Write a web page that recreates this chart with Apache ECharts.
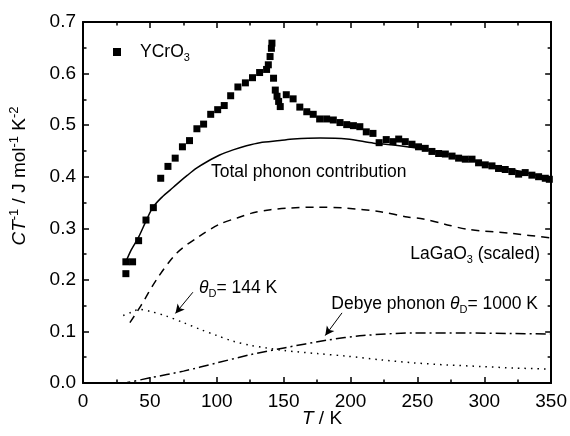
<!DOCTYPE html>
<html>
<head>
<meta charset="utf-8">
<title>YCrO3 CT-1</title>
<script src="https://cdn.jsdelivr.net/npm/echarts@6/dist/echarts.min.js"></script>
<style>
  html, body { margin: 0; padding: 0; background: #fff; }
  .layer { position: absolute; left: 0; top: 0; width: 570px; height: 436px; }
</style>
</head>
<body>
<div id="frame" class="layer"></div>
<div id="chart" class="layer"></div>
<script>
// measured YCrO3 points [T, C/T]
let ycroData = [
  [32, 0.212], [32, 0.235], [37, 0.235], [41.5, 0.276], [47, 0.316], [52.5, 0.340],
  [58, 0.397], [63.4, 0.420], [68.8, 0.436], [74.2, 0.458], [79.5, 0.470], [85, 0.493],
  [90, 0.502], [95.3, 0.521], [100.5, 0.530], [105.4, 0.538], [110.2, 0.557], [115.6, 0.574],
  [121.2, 0.582], [126.5, 0.592], [131.8, 0.602], [137, 0.608], [138.3, 0.617], [139.6, 0.633],
  [140.6, 0.649], [141, 0.659], [142.2, 0.591], [143.5, 0.568], [144.8, 0.556], [146, 0.546],
  [147.2, 0.536], [151.7, 0.559], [156.8, 0.551], [161.8, 0.535], [167, 0.526], [171.8, 0.521],
  [176.6, 0.512], [181.8, 0.512], [186.8, 0.510], [191.8, 0.505], [196.8, 0.501], [201.8, 0.499],
  [206.6, 0.497], [211.4, 0.487], [216.4, 0.484], [221, 0.466], [226.3, 0.472], [231.3, 0.468],
  [235.6, 0.473], [240.5, 0.468], [245.5, 0.463], [250.4, 0.458], [255.4, 0.455], [260.4, 0.449],
  [265.4, 0.445], [270.4, 0.444], [275.4, 0.440], [280.3, 0.436], [285.3, 0.434], [290.3, 0.434],
  [295.2, 0.427], [300.2, 0.423], [305.2, 0.421], [310.1, 0.416], [315.1, 0.414], [320.1, 0.410],
  [325.1, 0.405], [330, 0.408], [335, 0.403], [340, 0.400], [345, 0.397], [348, 0.395]
];

// total phonon contribution (solid)
let totalPhonon = [
  [32, 0.235], [36, 0.258], [41.5, 0.283], [47, 0.314], [52, 0.340], [58, 0.358],
  [65, 0.374], [72, 0.390], [78, 0.403], [85, 0.417], [92.5, 0.429], [102, 0.442],
  [112, 0.452], [122, 0.460], [132, 0.466], [147, 0.470], [157, 0.473], [177, 0.475],
  [197, 0.473], [217, 0.465], [230, 0.462], [250, 0.455], [275, 0.442], [300, 0.426],
  [325, 0.411], [350, 0.396]
];

// LaGaO3 scaled (dashed)
let laGaO3 = [
  [35, 0.117], [43, 0.149], [55, 0.201], [70, 0.252], [87, 0.285], [102, 0.308],
  [115, 0.320], [127, 0.330], [140, 0.336], [152, 0.339], [175, 0.341], [197, 0.339],
  [222, 0.332], [242, 0.322], [254, 0.318], [270, 0.308], [287, 0.298], [320, 0.290],
  [350, 0.281]
];

// Debye theta_D = 144 K (dotted)
let debye144 = [
  [30, 0.131], [36, 0.137], [42, 0.143], [50, 0.139], [62, 0.130], [75, 0.117],
  [87.5, 0.104], [100, 0.092], [112, 0.081], [125, 0.073], [137, 0.068], [150, 0.063],
  [175, 0.057], [197, 0.052], [222, 0.045], [247, 0.039], [272, 0.035], [297, 0.032],
  [322, 0.029], [350, 0.027]
];

// Debye theta_D = 1000 K (dash-dot)
let debye1000 = [
  [28, 0.000], [33, 0.001], [50, 0.010], [75, 0.023], [100, 0.039], [125, 0.055],
  [150, 0.068], [182, 0.083], [209, 0.092], [247, 0.097], [284, 0.097], [320, 0.096],
  [350, 0.095]
];

// arrow annotations [from, to]
let arrow144 = [[82, 0.176], [69, 0.135]];
let arrow1000 = [[193.3, 0.136], [180.8, 0.092]];

let xTicks = { min: 0, max: 350, interval: 50 };
let yTicks = { min: 0, max: 0.7, interval: 0.1 };
let GRID = { left: 83, right: 18, top: 22, bottom: 53 };

let FONT = '"Liberation Sans", Arial, Helvetica, sans-serif';

let richText = {
  n: { fontFamily: FONT, fontSize: 17.5, lineHeight: 22, color: '#000', verticalAlign: 'middle' },
  i: { fontFamily: FONT, fontSize: 17.5, lineHeight: 22, color: '#000', fontStyle: 'italic', verticalAlign: 'middle' },
  sub: { fontFamily: FONT, fontSize: 11, lineHeight: 11, color: '#000', verticalAlign: 'bottom' },
  sup: { fontFamily: FONT, fontSize: 12, lineHeight: 12, color: '#000', verticalAlign: 'top' }
};

let richAxis = {
  n: { fontFamily: FONT, fontSize: 19, lineHeight: 24, color: '#000', verticalAlign: 'middle' },
  i: { fontFamily: FONT, fontSize: 19, lineHeight: 24, color: '#000', fontStyle: 'italic', verticalAlign: 'middle' },
  sup: { fontFamily: FONT, fontSize: 13, lineHeight: 12, color: '#000', verticalAlign: 'top' }
};

// box axis: line + inward major/minor ticks, labels off unless given
let frameAxis = function(extra) {
  return Object.assign({
    type: 'value',
    axisLine: { show: true, onZero: false, lineStyle: { color: '#000', width: 2 } },
    axisTick: { show: true, inside: true, length: 6, lineStyle: { color: '#000', width: 1.5 } },
    minorTick: { show: true, splitNumber: 2, length: 3.5, lineStyle: { color: '#000', width: 1.5 } },
    splitLine: { show: false },
    axisLabel: { show: false }
  }, extra);
};

let textEl = function(x, y, text, rich, align, rotation) {
  return {
    type: 'text',
    x: x,
    y: y,
    rotation: rotation || 0,
    style: { text: text, rich: rich, align: align || 'left', verticalAlign: 'middle' },
    silent: true
  };
};

let curve = function(name, data, dash) {
  return {
    name: name,
    type: 'line',
    data: data,
    smooth: 0.3,
    showSymbol: false,
    lineStyle: { color: '#000', width: 1.5, type: dash }
  };
};

let arrowMark = function(pts) {
  return {
    silent: true,
    symbol: ['none', 'arrow'],
    symbolSize: [7, 9],
    label: { show: false },
    lineStyle: { color: '#000', width: 1, type: 'solid' },
    data: [[{ coord: pts[0] }, { coord: pts[1] }]]
  };
};

// layer 1: the boxed axes with ticks and tick labels
let frameChart = echarts.init(document.getElementById('frame'));
frameChart.setOption({
  animation: false,
  backgroundColor: '#fff',
  grid: GRID,
  xAxis: [
    frameAxis(Object.assign({
      position: 'bottom',
      axisLabel: { show: true, margin: 9, color: '#000', fontSize: 19, fontFamily: FONT }
    }, xTicks)),
    frameAxis(Object.assign({ position: 'top' }, xTicks))
  ],
  yAxis: [
    frameAxis(Object.assign({
      position: 'left',
      axisLabel: {
        show: true, margin: 7, color: '#000', fontSize: 19, fontFamily: FONT,
        formatter: function(v) { return v.toFixed(1); }
      }
    }, yTicks)),
    frameAxis(Object.assign({ position: 'right' }, yTicks))
  ],
  series: [
    { type: 'line', data: [] },
    { type: 'line', xAxisIndex: 1, yAxisIndex: 1, data: [] }
  ]
});

// layer 2: data, arrows, legend and labels on the same grid
let s144 = curve('Debye 144 K', debye144, [1.5, 5]);
s144.markLine = arrowMark(arrow144);
let s1000 = curve('Debye 1000 K', debye1000, [10, 4, 2, 4]);
s1000.markLine = arrowMark(arrow1000);

let myChart = echarts.init(document.getElementById('chart'));
myChart.setOption({
  animation: false,
  backgroundColor: 'transparent',
  grid: GRID,
  legend: {
    data: ['YCrO3'],
    left: 108,
    top: 38,
    icon: 'rect',
    itemWidth: 8,
    itemHeight: 8,
    formatter: function() { return '{n|YCrO}{sub|3}'; },
    textStyle: { rich: richText, padding: [0, 0, 0, 14] }
  },
  xAxis: Object.assign({ type: 'value', show: false }, xTicks),
  yAxis: Object.assign({ type: 'value', show: false }, yTicks),
  series: [
    curve('Total phonon contribution', totalPhonon, 'solid'),
    curve('LaGaO3 (scaled)', laGaO3, [8, 6]),
    s144,
    s1000,
    {
      name: 'YCrO3',
      type: 'scatter',
      data: ycroData,
      symbol: 'rect',
      symbolSize: 7,
      itemStyle: { color: '#000', opacity: 1 }
    }
  ],
  graphic: [
    textEl(211, 172, '{n|Total phonon contribution}', richText),
    textEl(540, 254, '{n|LaGaO}{sub|3}{n| (scaled)}', richText, 'right'),
    textEl(199, 288, '{i|θ}{sub|D}{n|= 144 K}', richText),
    textEl(538, 304, '{n|Debye phonon }{i|θ}{sub|D}{n|= 1000 K}', richText, 'right'),
    textEl(322, 419, '{i|T}{n| / K}', richAxis, 'center'),
    textEl(20, 176, '{i|CT}{sup|-1}{n| / J mol}{sup|-1}{n| K}{sup|-2}', richAxis, 'center', Math.PI / 2)
  ]
});
</script>
</body>
</html>
